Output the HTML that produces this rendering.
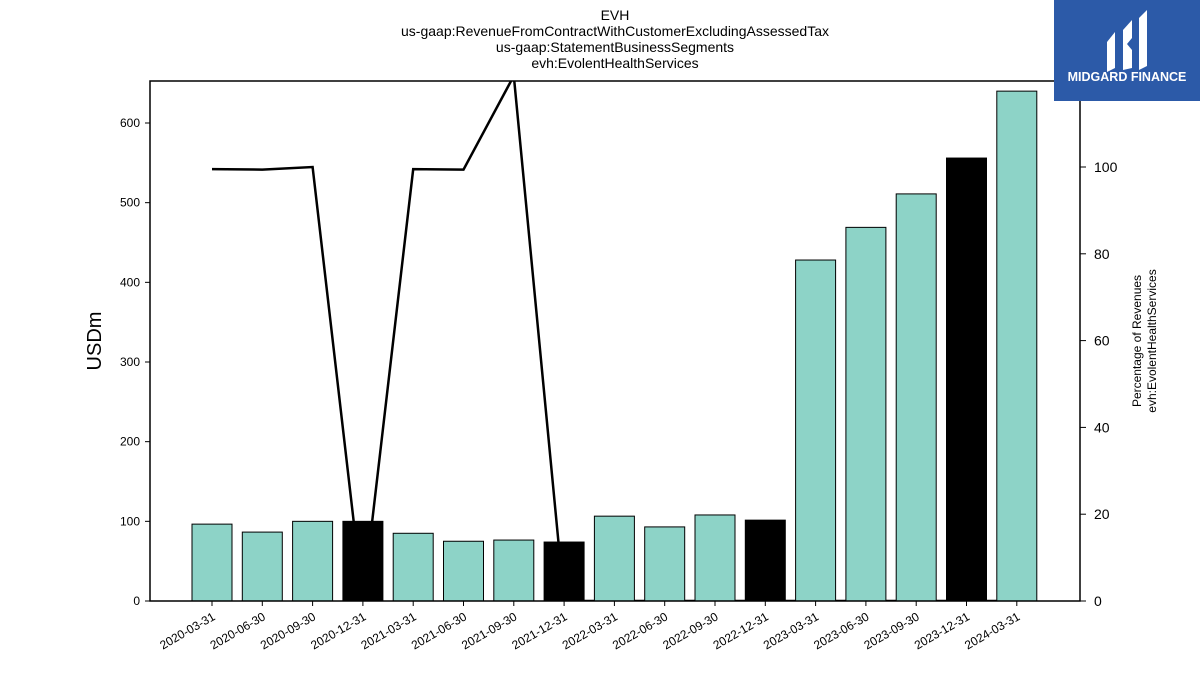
<!DOCTYPE html>
<html><head><meta charset="utf-8"><style>
body{margin:0;background:#fff;font-family:"Liberation Sans",sans-serif;}
svg text{font-family:"Liberation Sans",sans-serif;}
</style></head><body>
<svg width="1200" height="675" xmlns="http://www.w3.org/2000/svg">
<g font-size="14" text-anchor="middle" fill="#000">
<text x="615" y="20">EVH</text>
<text x="615" y="36">us-gaap:RevenueFromContractWithCustomerExcludingAssessedTax</text>
<text x="615" y="52">us-gaap:StatementBusinessSegments</text>
<text x="615" y="68">evh:EvolentHealthServices</text>
</g>
<g id="plot"></g>
<rect x="1054" y="0" width="146" height="101" fill="#2c5aa8"/>
<g fill="#fff">
<path d="M1107 42 L1115 32 L1115 68 L1107 72 Z"/>
<path d="M1123 30 L1132 20 L1132 38 L1127 44 L1132 50 L1132 68 L1123 70 Z"/>
<path d="M1139 18 L1147 10 L1147 66 L1139 70 Z"/>
</g>
<text x="1127" y="81" font-size="12.5" font-weight="bold" fill="#fff" text-anchor="middle">MIDGARD FINANCE</text>
</svg>
<script>
const categories=["2020-03-31","2020-06-30","2020-09-30","2020-12-31","2021-03-31","2021-06-30","2021-09-30","2021-12-31","2022-03-31","2022-06-30","2022-09-30","2022-12-31","2023-03-31","2023-06-30","2023-09-30","2023-12-31","2024-03-31"];
const revenues=[96.5,86.5,100,100,85,75,76.5,74,106.5,93,108,101.5,428,469,511,556,640];
const percentages=[99.5,99.4,100,0,99.5,99.4,121,0,0,0,0,0,0,0,0,0,0];
const yearEnd=[false,false,false,true,false,false,false,true,false,false,false,true,false,false,false,true,false];
const leftTicks=[0,100,200,300,400,500,600];
const rightTicks=[0,20,40,60,80,100];
const NS="http://www.w3.org/2000/svg";
const L=150,R=1080,T=81,B=601;
const yL=v=>B-v*(478/600);
const yR=v=>B-v*4.34;
const xC=i=>212+i*50.3;
const g=document.getElementById('plot');
function mk(t,a){const e=document.createElementNS(NS,t);for(const k in a)e.setAttribute(k,a[k]);g.appendChild(e);return e;}
const cp=document.createElementNS(NS,'clipPath');cp.setAttribute('id','clip');
const cr=document.createElementNS(NS,'rect');cr.setAttribute('x',L);cr.setAttribute('y',T);cr.setAttribute('width',R-L);cr.setAttribute('height',B-T);cp.appendChild(cr);g.appendChild(cp);
let d='';percentages.forEach((v,i)=>{d+=(i?'L':'M')+xC(i)+' '+yR(v);});
const ln=mk('path',{d:d,fill:'none',stroke:'#000','stroke-width':2.5,'clip-path':'url(#clip)'});


revenues.forEach((v,i)=>{
const b=mk('rect',{x:xC(i)-20,y:yL(v),width:40,height:B-yL(v),fill:yearEnd[i]?'#000':'#8dd3c7',stroke:'#000','stroke-width':1});


const tk=mk('line',{x1:xC(i),x2:xC(i),y1:B,y2:B+5,stroke:'#000'});


const t=mk('text',{x:xC(i)+4,y:B+18,'font-size':12,'text-anchor':'end',transform:'rotate(-30 '+(xC(i)+4)+' '+(B+18)+')'});
t.textContent=categories[i];


});
const fr=mk('path',{d:`M${L} ${T}H${R}V${B}H${L}Z`,fill:'none',stroke:'#000','stroke-width':1.5});


leftTicks.forEach(v=>{
const tk=mk('line',{x1:L-5,x2:L,y1:yL(v),y2:yL(v),stroke:'#000'});


const t=mk('text',{x:L-10,y:yL(v)+4,'font-size':12,'text-anchor':'end'});t.textContent=v;


});
rightTicks.forEach(v=>{
const tk=mk('line',{x1:R,x2:R+6,y1:yR(v),y2:yR(v),stroke:'#000'});


const t=mk('text',{x:R+14,y:yR(v)+5,'font-size':14});t.textContent=v;


});
const yt=mk('text',{x:101,y:341,'font-size':20,'text-anchor':'middle',transform:'rotate(-90 101 341)'});yt.textContent='USDm';


const r1=mk('text',{x:1141,y:341,'font-size':12,'text-anchor':'middle',transform:'rotate(-90 1141 341)'});r1.textContent='Percentage of Revenues';


const r2=mk('text',{x:1156,y:341,'font-size':12,'text-anchor':'middle',transform:'rotate(-90 1156 341)'});r2.textContent='evh:EvolentHealthServices';


</script>
</body></html>
